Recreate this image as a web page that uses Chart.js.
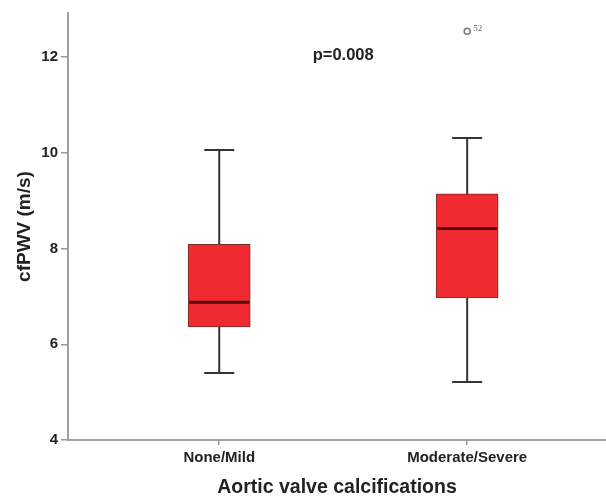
<!DOCTYPE html>
<html>
<head>
<meta charset="utf-8">
<script src="https://cdn.jsdelivr.net/npm/chart.js@4.4.1/dist/chart.umd.min.js"></script>
<style>
  html, body { margin: 0; padding: 0; background: #fff; }
  #wrap { width: 606px; height: 499px; position: relative; }
</style>
</head>
<body>
<div id="wrap"><canvas id="c"></canvas></div>
<script>
// ---- data ----
const categories = ["None/Mild", "Moderate/Severe"];
const whiskerLow = [5.40, 5.21];
const q1 = [6.36, 6.97];
const median = [6.88, 8.42];
const q3 = [8.09, 9.14];
const whiskerHigh = [10.06, 10.31];
const outlierGroup = [2];
const outlierValue = [12.54];
const outlierLabel = ["52"];
const yTicks = [4, 6, 8, 10, 12];
const pText = "p=0.008";

const boxData = categories.map((c, i) => ({ x: i + 1, y: [q1[i], q3[i]] }));
const outData = outlierGroup.map((g, i) => ({ x: g, y: outlierValue[i] }));

const boxPlugin = {
  id: 'boxExtras',
  beforeDatasetsDraw(chart) {
    const ctx = chart.ctx, xs = chart.scales.x, ys = chart.scales.y;
    ctx.save();
    ctx.strokeStyle = '#333333';
    ctx.lineWidth = 2;
    categories.forEach((c, i) => {
      const x = xs.getPixelForValue(i + 1);
      const capHalf = 15;
      ctx.beginPath();
      ctx.moveTo(x, ys.getPixelForValue(q3[i]));
      ctx.lineTo(x, ys.getPixelForValue(whiskerHigh[i]));
      ctx.moveTo(x, ys.getPixelForValue(q1[i]));
      ctx.lineTo(x, ys.getPixelForValue(whiskerLow[i]));
      const yh = ys.getPixelForValue(whiskerHigh[i]);
      const yl = ys.getPixelForValue(whiskerLow[i]);
      ctx.moveTo(x - capHalf, yh); ctx.lineTo(x + capHalf, yh);
      ctx.moveTo(x - capHalf, yl); ctx.lineTo(x + capHalf, yl);
      ctx.stroke();
    });
    ctx.restore();
  },
  afterDatasetsDraw(chart) {
    const ctx = chart.ctx, xs = chart.scales.x, ys = chart.scales.y;
    ctx.save();
    const meta = chart.getDatasetMeta(0);
    ctx.strokeStyle = '#5a0808';
    ctx.lineWidth = 3;
    categories.forEach((c, i) => {
      const bar = meta.data[i];
      const half = bar.width / 2;
      const x = xs.getPixelForValue(i + 1);
      const y = ys.getPixelForValue(median[i]);
      ctx.beginPath();
      ctx.moveTo(x - half + 1, y);
      ctx.lineTo(x + half - 1, y);
      ctx.stroke();
    });
    // outlier labels
    ctx.fillStyle = '#666';
    ctx.font = '9px "Liberation Serif", serif';
    ctx.textAlign = 'left';
    ctx.textBaseline = 'middle';
    outlierGroup.forEach((g, i) => {
      ctx.fillText(outlierLabel[i], xs.getPixelForValue(g) + 6, ys.getPixelForValue(outlierValue[i]) - 3);
    });
    // p-value
    ctx.fillStyle = '#222';
    ctx.font = 'bold 16.5px "Liberation Sans", Arial, sans-serif';
    ctx.textAlign = 'center';
    ctx.fillText(pText, xs.getPixelForValue(1.5), ys.getPixelForValue(12.04));
    ctx.restore();
  }
};

new Chart(document.getElementById('c'), {
  type: 'bar',
  data: {
    datasets: [
      {
        type: 'bar',
        data: boxData,
        backgroundColor: '#ef2a30',
        borderColor: '#7a2a2a',
        borderWidth: 1,
        borderSkipped: false,
        barThickness: 62
      },
      {
        type: 'scatter',
        data: outData,
        pointStyle: 'circle',
        pointRadius: 3,
        backgroundColor: '#ffffff',
        borderColor: '#777777',
        borderWidth: 1.5
      }
    ]
  },
  options: {
    responsive: true,
    maintainAspectRatio: false,
    animation: false,
    layout: { autoPadding: false, padding: { top: 13, right: 0 } },
    plugins: { legend: { display: false }, tooltip: { enabled: false } },
    scales: {
      x: {
        type: 'linear',
        offset: false,
        min: 0.39,
        max: 2.56,
        afterBuildTicks(scale) { scale.ticks = categories.map((c, i) => ({ value: i + 1 })); },
        afterFit(scale) { scale.height = 59; scale.paddingRight = 0; },
        ticks: {
          callback: (v) => categories[v - 1] || '',
          color: '#222',
          font: { family: '"Liberation Sans", Arial, sans-serif', size: 15, weight: 'bold' },
          padding: 4,
          maxRotation: 0,
          autoSkip: false
        },
        grid: { offset: false, drawOnChartArea: false, drawTicks: true, tickLength: 5, color: '#999', lineWidth: 1.5 },
        border: { color: '#a0a0a0', width: 2 },
        title: {
          display: true,
          text: 'Aortic valve calcifications',
          color: '#222',
          font: { family: '"Liberation Sans", Arial, sans-serif', size: 19.5, weight: 'bold' },
          padding: { top: 0, bottom: 0 }
        }
      },
      y: {
        type: 'linear',
        min: 4,
        max: 12.92,
        afterBuildTicks(scale) { scale.ticks = yTicks.map(v => ({ value: v })); },
        afterFit(scale) { scale.width = 68; scale.paddingTop = 0; scale.paddingBottom = 0; },
        ticks: {
          color: '#222',
          font: { family: '"Liberation Sans", Arial, sans-serif', size: 15, weight: 'bold' },
          padding: 3
        },
        grid: { drawOnChartArea: false, drawTicks: true, tickLength: 7, color: '#999', lineWidth: 1.5 },
        border: { color: '#a0a0a0', width: 2 },
        title: {
          display: true,
          text: 'cfPWV (m/s)',
          color: '#222',
          font: { family: '"Liberation Sans", Arial, sans-serif', size: 19, weight: 'bold' },
          padding: { top: 13, bottom: 0 }
        }
      }
    }
  },
  plugins: [boxPlugin]
});
</script>
</body>
</html>
